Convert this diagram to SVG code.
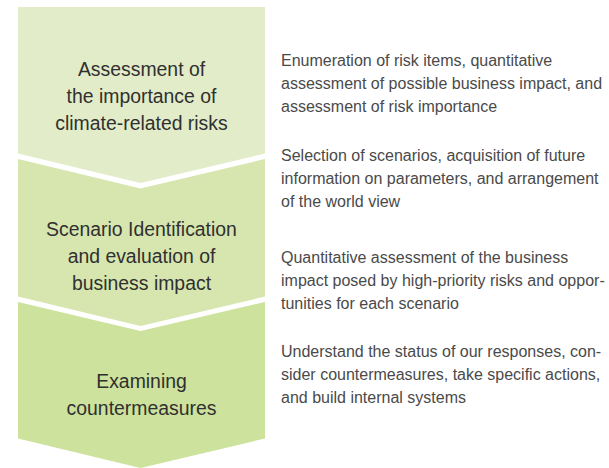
<svg xmlns="http://www.w3.org/2000/svg" width="609" height="468" viewBox="0 0 609 468">
  <style>
    .step-label { font-family: "Liberation Sans", Arial, sans-serif; font-size: 19.4px; fill: #303030; text-anchor: middle; }
    .desc { font-family: "Liberation Sans", Arial, sans-serif; font-size: 16px; fill: #4a4a4a; }
    .s1 { fill: #e2ecc8; }
    .s2 { fill: #d6e6ae; }
    .s3 { fill: #cde29c; }
  </style>
  <rect width="609" height="468" fill="#ffffff"/>

  <!-- Step 1: chevron with flat top -->
  <g id="step-assessment">
    <polygon class="s1" points="18,7 265,7 265,153.5 140.5,183 18,153.5"/>
    <text class="step-label" x="141.5" y="76">Assessment of</text>
    <text class="step-label" x="141.5" y="103">the importance of</text>
    <text class="step-label" x="141.5" y="130">climate-related risks</text>
  </g>

  <!-- Step 2: notched chevron -->
  <g id="step-scenario">
    <polygon class="s2" points="18,159 140.5,188.5 265,159 265,296.5 140.5,326 18,296.5"/>
    <text class="step-label" x="141.5" y="236">Scenario Identification</text>
    <text class="step-label" x="141.5" y="263">and evaluation of</text>
    <text class="step-label" x="141.5" y="290">business impact</text>
  </g>

  <!-- Step 3: notched chevron pointing down -->
  <g id="step-countermeasures">
    <polygon class="s3" points="18,302 140.5,331 265,302 265,438.5 140.5,468 18,438.5"/>
    <text class="step-label" x="141.5" y="387.5">Examining</text>
    <text class="step-label" x="141.5" y="414.5">countermeasures</text>
  </g>

  <!-- Descriptions -->
  <g id="desc-1">
    <text class="desc" x="281" y="65.5">Enumeration of risk items, quantitative</text>
    <text class="desc" x="281" y="88.5">assessment of possible business impact, and</text>
    <text class="desc" x="281" y="111.5">assessment of risk importance</text>
  </g>
  <g id="desc-2">
    <text class="desc" x="281" y="161">Selection of scenarios, acquisition of future</text>
    <text class="desc" x="281" y="184">information on parameters, and arrangement</text>
    <text class="desc" x="281" y="207">of the world view</text>
  </g>
  <g id="desc-3">
    <text class="desc" x="281" y="263">Quantitative assessment of the business</text>
    <text class="desc" x="281" y="286">impact posed by high-priority risks and oppor-</text>
    <text class="desc" x="281" y="309">tunities for each scenario</text>
  </g>
  <g id="desc-4">
    <text class="desc" x="281" y="356.5">Understand the status of our responses, con-</text>
    <text class="desc" x="281" y="379.5">sider countermeasures, take specific actions,</text>
    <text class="desc" x="281" y="402.5">and build internal systems</text>
  </g>
</svg>
